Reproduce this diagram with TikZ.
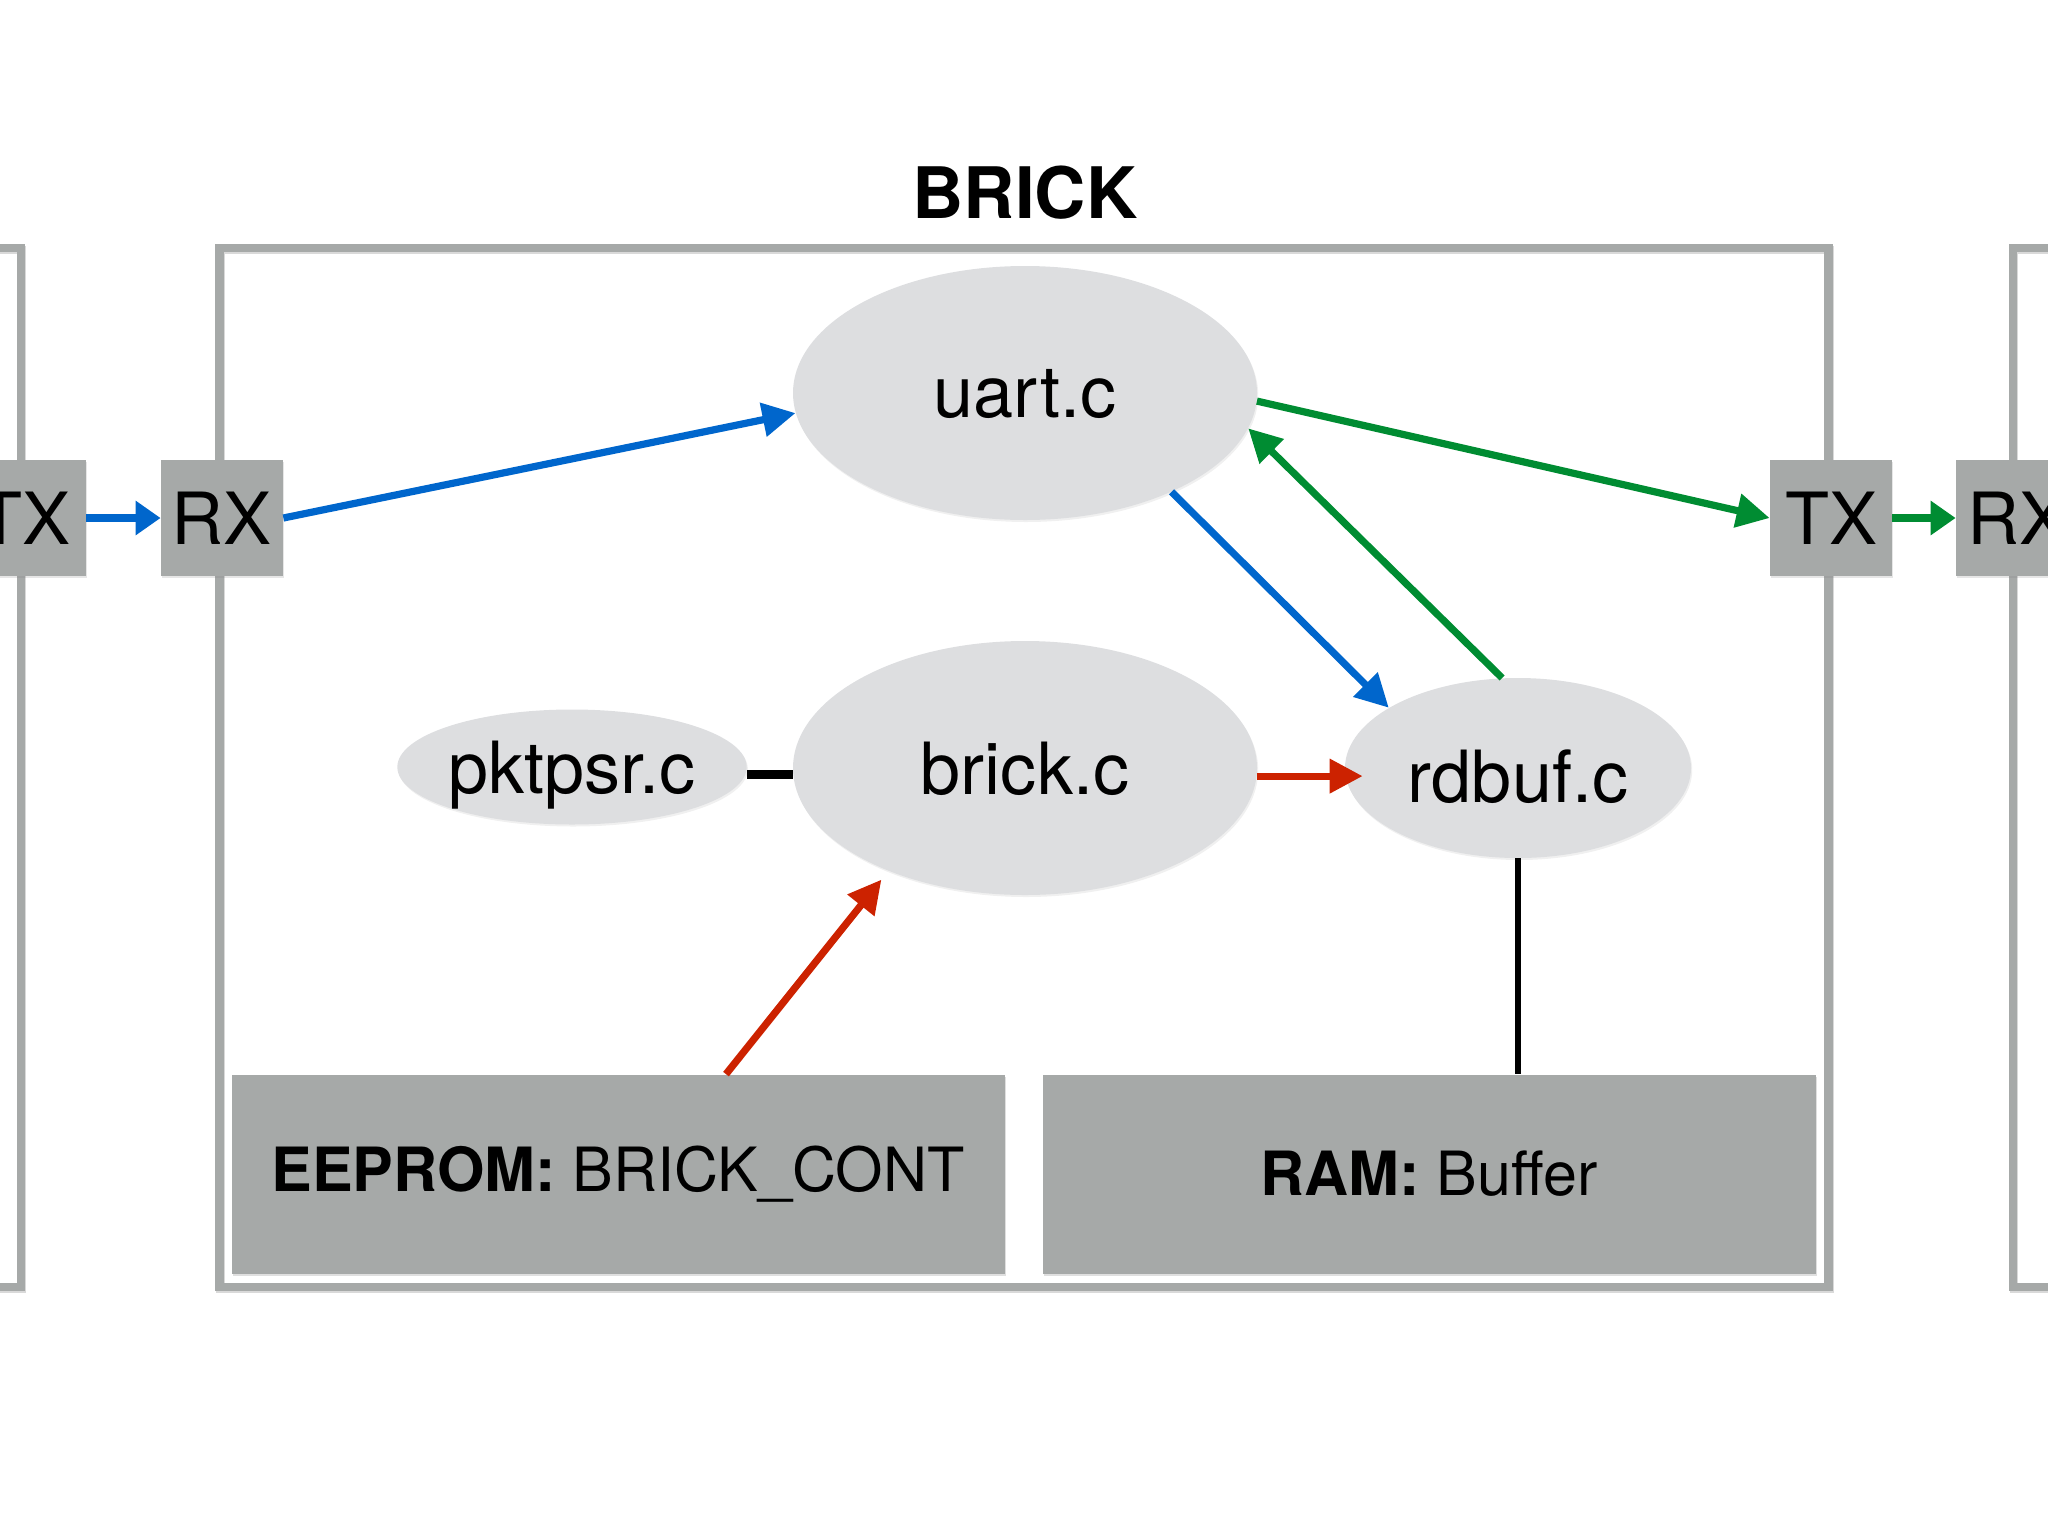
\documentclass[tikz,border=0pt]{standalone}
\usepackage{fontspec}
\setmainfont{TeX Gyre Heros}
\usetikzlibrary{shapes,shadows,calc,arrows.meta}
\definecolor{framegray}{RGB}{166,169,168}
\definecolor{filegray}{RGB}{221,222,224}
\definecolor{linkblue}{RGB}{0,102,204}
\definecolor{linkgreen}{RGB}{0,140,50}
\definecolor{linkred}{RGB}{204,34,0}
\tikzset{>={Triangle[length=16.5pt,width=16.5pt]}}

\begin{document}
\begin{tikzpicture}[x=0.5pt,y=-0.5pt]
\useasboundingbox (0,0) rectangle (2048,1536);

%% styles
\tikzstyle{brickframe}=[draw=framegray, line width=4.2pt, minimum width=804.5pt, minimum height=519.5pt, inner sep=0pt, drop shadow={shadow xshift=0.5pt, shadow yshift=-1pt, opacity=0.15, fill=none, draw=black}]

\tikzstyle{srcfile}=[ellipse, fill=filegray, inner sep=0pt, text depth=0pt, font=\fontsize{36pt}{40pt}\selectfont, drop shadow={shadow xshift=0.6pt, shadow yshift=-1pt, opacity=0.12}]

\tikzstyle{portbox}=[fill=framegray, minimum width=61pt, minimum height=58pt, inner sep=0pt, font=\fontsize{36pt}{40pt}\selectfont, drop shadow={shadow xshift=0.6pt, shadow yshift=-1pt, opacity=0.2}]

\tikzstyle{membox}=[fill=framegray, minimum width=386.5pt, minimum height=99.5pt, inner sep=0pt, font=\fontsize{30.5pt}{34pt}\selectfont, drop shadow={shadow xshift=0.6pt, shadow yshift=-1.2pt, opacity=0.25}]

\tikzstyle{link}=[line width=3.6pt, ->]
\tikzstyle{shortlink}=[line width=3.6pt, -{Triangle[length=12.5pt,width=16.5pt]}]
\tikzstyle{wire}=[line width=3.5pt]

%% frames
\node(brick)[style = brickframe] at (1024, 767.5) {};
\node(leftbrick)[style = brickframe] at (-783.5, 767.5) {};
\node(rightbrick)[style = brickframe] at (2817.5, 767.5) {};

\node(title)[font=\bfseries\fontsize{35.5pt}{40pt}\selectfont] at (1025, 193) {BRICK};

%% source files
\node(uart)[style = srcfile, minimum width=232pt, minimum height=127pt] at (1025, 393) {uart.c};
\node(brickc)[style = srcfile, minimum width=232pt, minimum height=127pt] at (1025, 768) {brick.c};
\node(pktpsr)[style = srcfile, minimum width=174pt, minimum height=57.5pt] at (572, 767) {pktpsr.c};
\node(rdbuf)[style = srcfile, minimum width=173pt, minimum height=90pt, text height=34pt] at (1518, 768) {rdbuf.c};

%% ports
\node(txprev)[style = portbox] at (25, 518) {TX};
\node(rxin)[style = portbox] at (222, 518) {RX};
\node(txout)[style = portbox] at (1831, 518) {TX};
\node(rxnext)[style = portbox] at (2017, 518) {RX};

%% memory
\node(eeprom)[style = membox] at (618, 1174) {\textbf{EEPROM:} BRICK\_CONT};
\node(ram)[style = membox] at (1429, 1174) {\textbf{RAM:} Buffer};

%% arrows
\path [draw=linkblue, style = shortlink] (txprev) -- (rxin);
\path [draw=linkblue, style = link] (rxin.east) -- (uart.185);
\path [draw=linkblue, style = link] (uart.-34) -- (rdbuf.155);

\path [draw=linkgreen, style = link] (uart.-2) -- (txout.west);
\path [draw=linkgreen, style = link] (rdbuf.100) -- (uart.-9.5);
\path [draw=linkgreen, style = shortlink] (txout) -- (rxnext);

\path [draw=linkred, style = link, shorten >=-9pt] (brickc.-2) -- (brickc.-2 -| rdbuf.west);
\path [draw=linkred, style = link, shorten >=5.5pt] ([xshift=54pt]eeprom.north) -- (brickc.217);

\path [draw, style = wire, line width=4.5pt] ([yshift=-3.5pt]pktpsr.east) -- ([yshift=-3.5pt]pktpsr.east -| brickc.west);
\path [draw, style = wire, line width=3pt] (rdbuf.south) -- (rdbuf.south |- ram.north);

\end{tikzpicture}
\end{document}
